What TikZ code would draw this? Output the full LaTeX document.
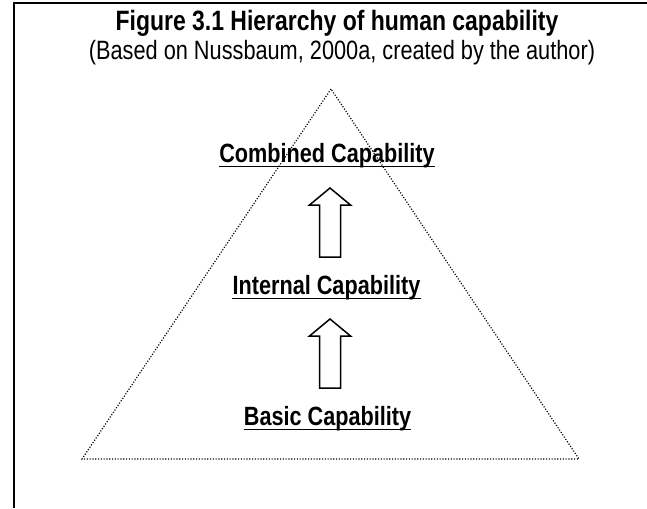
\documentclass[tikz,border=0pt]{standalone}
\usepackage{fontspec}
\setmainfont{Liberation Sans}
\newfontfamily\narrowf[FakeStretch=0.82]{Liberation Sans}
\begin{document}
\begin{tikzpicture}[x=1pt,y=-1pt,
  lab/.style={font=\narrowf\bfseries\fontsize{26.4}{30}\selectfont, inner sep=0pt, anchor=base},
  uline/.style={line width=1.8pt},
  blockarrow/.style={draw, line width=1.5pt, line join=miter},
  tri/.style={line width=1.2pt, dash pattern=on 1.1pt off 1.7pt}]
\useasboundingbox (0,0) rectangle (647,508);
% frame
\draw[line width=2pt] (14,508) -- (14,3.5) -- (647,3.5);
% title
\node[lab, font=\narrowf\bfseries\fontsize{28}{32}\selectfont] (title) at (337,31) {Figure 3.1 Hierarchy of human capability};
\node[lab, font=\narrowf\fontsize{26.5}{30}\selectfont] (sub) at (342,60) {(Based on Nussbaum, 2000a, created by the author)};
% triangle
\coordinate (apex) at (331,89);
\coordinate (bl) at (82,459);
\coordinate (br) at (579,459);
\draw[tri] (apex) -- (bl) -- (br) -- cycle;
% labels
\node[lab] (comb) at (327,162) {Combined Capability};
\node[lab] (intl) at (326.5,294) {Internal Capability};
\node[lab] (basic) at (327.5,425) {Basic Capability};
\foreach \n in {comb,intl,basic}
  \draw[uline] ([yshift=-4.5pt]\n.base west) -- ([yshift=-4.5pt]\n.base east);
% arrows
\coordinate (t1) at (330,188);
\coordinate (t2) at (330,319);
\foreach \t in {t1,t2}
  \draw[blockarrow] (\t) -- ++(20.5,17) -- ++(-10,0) -- ++(0,52) -- ++(-21,0)
     -- ++(0,-52) -- ++(-10,0) -- cycle;
\end{tikzpicture}
\end{document}
